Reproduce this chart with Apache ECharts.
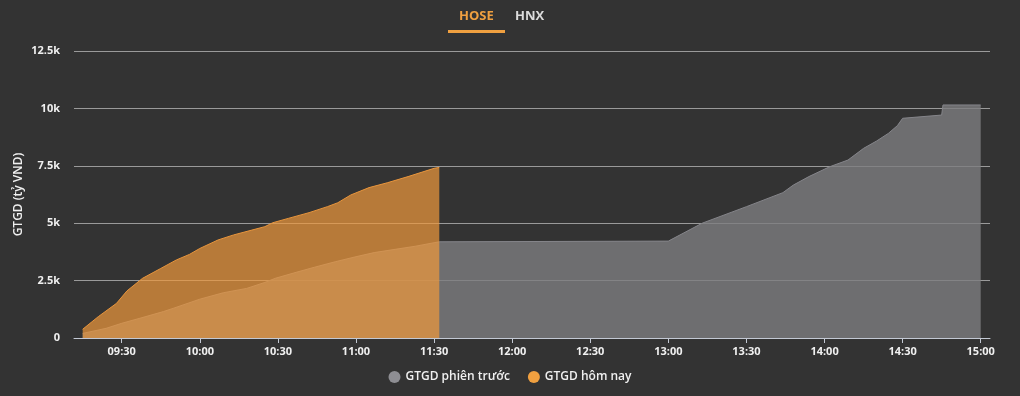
<!DOCTYPE html>
<html>
<head>
<meta charset="utf-8">
<script src="https://cdn.jsdelivr.net/npm/echarts@6/dist/echarts.min.js"></script>
<style>
html,body{margin:0;padding:0;background:#333333;}
#c{width:1020px;height:396px;}
</style>
</head>
<body>
<div id="c"></div>
<script>
// ---- data ----
var tabs = ["HOSE", "HNX"];
var seriesNames = ["GTGD phiên trước", "GTGD hôm nay"];
var yAxisName = "GTGD (tỷ VND)";
var xTickLabels = ["09:30","10:00","10:30","11:00","11:30","12:00","12:30","13:00","13:30","14:00","14:30","15:00"];
var yTickValues = [0, 2500, 5000, 7500, 10000, 12500];

var todayTimes = ["09:15","09:21","09:28","09:32","09:38","09:45","09:51","09:56","10:00","10:07","10:13","10:20","10:25","10:28","10:34","10:42","10:49","10:53","10:58","11:05","11:12","11:20","11:30","11:32"];
var todayValues = [380,930,1510,2050,2600,3030,3400,3640,3900,4270,4490,4700,4850,5020,5210,5460,5720,5890,6230,6550,6760,7030,7390,7430];

var prevTimes = ["09:15","09:24","09:30","09:37","09:46","09:50","10:00","10:09","10:18","10:25","10:29","10:37","10:44","10:52","11:00","11:07","11:15","11:23","11:30","11:32","13:00","13:13","13:30","13:44","13:48","13:54","14:02","14:09","14:15","14:20","14:24:30","14:28","14:30","14:45","14:45:30","15:00"];
var prevValues = [200,420,640,860,1150,1300,1690,1970,2160,2420,2600,2860,3080,3320,3540,3720,3860,4000,4150,4190,4220,5000,5720,6330,6660,7030,7460,7750,8260,8580,8910,9250,9570,9710,10150,10150];

// ---- helpers ----
function toMin(s){var p=s.split(':').map(Number);return p[0]*60+p[1]+(p[2]||0)/60;}
function pad(n){return (n<10?'0':'')+n;}
function fmtMin(v){var h=Math.floor(v/60+1e-6);var m=Math.round(v-h*60);return pad(h)+':'+pad(m);}
function pairs(t,v){return t.map(function(s,i){return [toMin(s),v[i]];});}

var chart = echarts.init(document.getElementById('c'), null, {renderer:'canvas'});
var FONT = '"Open Sans", "Noto Sans", sans-serif';

var option = {
  backgroundColor: '#333333',
  animation: false,
  textStyle: {fontFamily: FONT},
  grid: {left: 74, right: 30, top: 51, bottom: 58},
  legend: {
    data: seriesNames,
    bottom: 8,
    left: 'center',
    icon: 'circle',
    itemWidth: 12,
    itemHeight: 12,
    itemGap: 18,
    textStyle: {color: '#f0f0f0', fontSize: 12, fontWeight: 600, fontFamily: FONT}
  },
  graphic: [
    {type:'text', left: 459, top: 10, style:{text: tabs[0], fill:'#f0a040', font:'bold 13px ' + FONT}},
    {type:'rect', shape:{x:448, y:30, width:57, height:3}, style:{fill:'#f0a040'}},
    {type:'text', left: 515, top: 10, style:{text: tabs[1], fill:'#dcdcdc', font:'bold 13px ' + FONT}}
  ],
  xAxis: {
    type: 'value',
    min: toMin("09:11:40"),
    max: toMin("15:03:34"),
    axisLine: {show: true, lineStyle: {color: '#c3c9d4', width: 1}},
    axisTick: {show: true, length: 5, lineStyle: {color: '#c3c9d4'}, customValues: xTickLabels.map(toMin)},
    axisLabel: {color: '#f0f0f0', fontSize: 11, fontWeight: 700, margin: 8,
      customValues: xTickLabels.map(toMin), formatter: function(v){return fmtMin(v);}},
    splitLine: {show: false}
  },
  yAxis: {
    type: 'value',
    min: yTickValues[0],
    max: yTickValues[yTickValues.length-1],
    interval: 2500,
    name: yAxisName,
    nameLocation: 'middle',
    nameGap: 49,
    nameMoveOverlap: false,
    nameTextStyle: {color: '#f0f0f0', fontSize: 12, fontWeight: 600},
    axisLine: {show: false},
    axisTick: {show: false},
    axisLabel: {color: '#f0f0f0', fontSize: 11, fontWeight: 700, margin: 14,
      formatter: function(v){return v === 0 ? '0' : (v/1000) + 'k';}},
    splitLine: {show: true, lineStyle: {color: '#9a9a9a', width: 1}}
  },
  series: [
    {
      name: seriesNames[0],
      type: 'line',
      data: pairs(prevTimes, prevValues),
      showSymbol: false,
      symbol: 'none',
      itemStyle: {color: '#8e8e93'},
      lineStyle: {color: '#85858a', width: 1},
      areaStyle: {color: 'rgb(125,125,128)', opacity: 0.8},
      z: 2
    },
    {
      name: seriesNames[1],
      type: 'line',
      data: pairs(todayTimes, todayValues),
      showSymbol: false,
      symbol: 'none',
      itemStyle: {color: '#f0a040'},
      lineStyle: {color: '#e8953c', width: 1},
      areaStyle: {color: 'rgb(238,152,61)', opacity: 0.71},
      z: 3
    }
  ]
};
chart.setOption(option);
</script>
</body>
</html>
